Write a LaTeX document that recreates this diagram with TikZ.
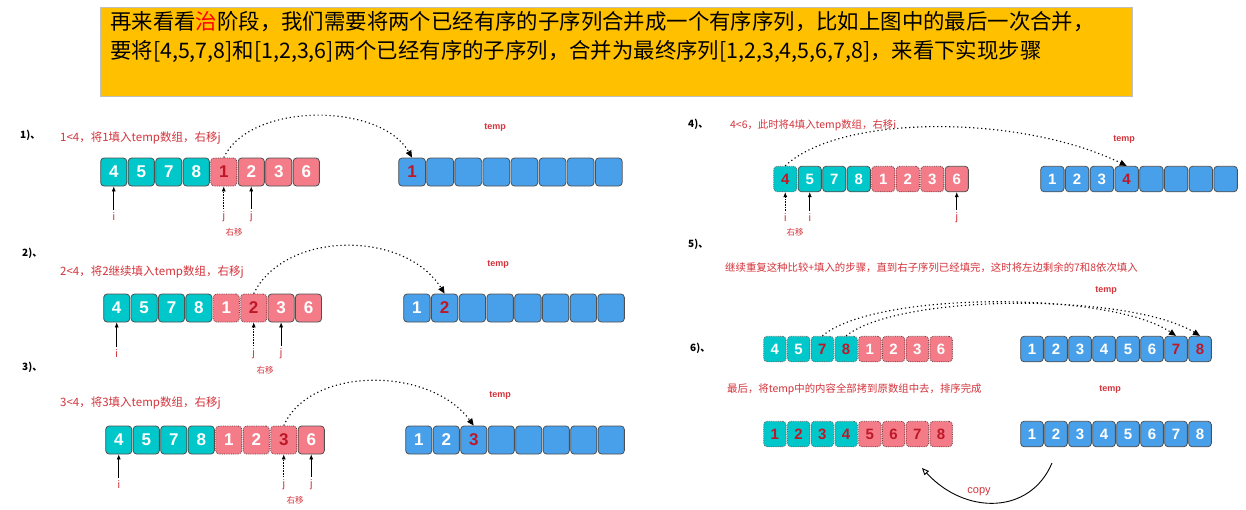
\documentclass[tikz,border=0pt]{standalone}
\usepackage{fontspec}
\setmainfont{Noto Sans CJK SC}
\newfontfamily\arial{Liberation Sans}
\usetikzlibrary{arrows.meta}
\definecolor{cteal}{RGB}{0,200,202}
\definecolor{cpink}{RGB}{244,124,136}
\definecolor{cblue}{RGB}{72,160,234}
\definecolor{cdark}{RGB}{190,24,40}
\definecolor{cred}{RGB}{212,52,60}
\definecolor{cbanner}{RGB}{255,192,0}
\definecolor{cborder}{RGB}{80,80,80}
\newcommand\cellrow[5][]{%
  \foreach \n/\s [count=\k] in {#5} {
    \node[cell,#1,\s,minimum width=#4pt-1.3pt] (#2\k) at ({#3+#4*(\k-0.5)},0) {\n};
  }}
\tikzset{
  cell/.style={rectangle, rounded corners=3.5pt, draw=cborder, line width=0.8pt,
    text=white, inner sep=0pt},
  big/.style={minimum height=28pt, font=\arial\bfseries\fontsize{17}{17}\selectfont},
  small/.style={minimum height=25.5pt, font=\arial\bfseries\fontsize{15}{15}\selectfont},
  tl/.style={fill=cteal},
  tlm/.style={fill=cteal, draw=black!60, densely dotted},
  tlh/.style={tlm, text=cdark},
  pk/.style={fill=cpink},
  pkm/.style={fill=cpink, draw=cpink!45!black, densely dotted},
  pkh/.style={pkm, text=cdark},
  bl/.style={fill=cblue},
  blh/.style={bl, text=cdark},
  stepno/.style={anchor=west, inner sep=0pt, font=\fontsize{10}{12}\selectfont\bfseries},
  desc/.style={anchor=west, inner sep=0pt, text=cred, font=\fontsize{11.5}{13}\selectfont},
  descs/.style={anchor=west, inner sep=0pt, text=cred, font=\fontsize{10.4}{12}\selectfont},
  templbl/.style={inner sep=0pt, text=cred, font=\arial\bfseries\fontsize{9}{10}\selectfont},
  ij/.style={inner sep=0pt, text=cred, font=\arial\fontsize{11}{12}\selectfont},
  movelbl/.style={inner sep=0pt, text=cred, font=\fontsize{8.5}{10}\selectfont},
  ptr/.style={line width=0.6pt, -{Latex[length=5pt,width=4pt]}},
  ptrd/.style={ptr, densely dotted},
  hop/.style={line width=1.1pt, dash pattern=on 1.2pt off 2.8pt, -{Triangle[length=7pt,width=6pt]}},
}
\begin{document}
\begin{tikzpicture}[x=1pt,y=-1pt]
\useasboundingbox (0,0) rectangle (1246,509);
\fill[white] (0,0) rectangle (1246,509);
% banner
\node[draw=gray!50, line width=1pt, fill=cbanner, minimum width=1032pt, minimum height=89pt,
  anchor=north west, inner sep=0pt] (banner) at (100,7) {};
\node[anchor=west, inner sep=0pt, font=\fontsize{21.4}{26}\selectfont] (b1) at (110,22)
  {再来看看\textcolor{red}{治}阶段，我们需要将两个已经有序的子序列合并成一个有序序列，比如上图中的最后一次合并，};
\node[anchor=west, inner sep=0pt, font=\fontsize{21.4}{26}\selectfont] (b2) at (110,51)
  {要将[4,5,7,8]和[1,2,3,6]两个已经有序的子序列，合并为最终序列[1,2,3,4,5,6,7,8]，来看下实现步骤};

% ---------- step 1
\node[stepno] (s1) at (20,135) {1)、};
\node[desc] (d1) at (60,138) {1<4，将1填入temp数组，右移j};
\begin{scope}[yshift=-172pt]
\cellrow[big]{a1}{100}{27.5}{4/tl,5/tl,7/tl,8/tl,1/pkh,2/pk,3/pk,6/pk}
\cellrow[big]{t1}{398}{28.1}{1/blh,/bl,/bl,/bl,/bl,/bl,/bl,/bl}
\end{scope}
\node[templbl] (tl1) at (495,127) {temp};
\node[ij] (i1) at (a11 |- 0,217) {i};
\node[ij] (j1a) at (a15 |- 0,217) {j};
\node[ij] (j1b) at (a16 |- 0,217) {j};
\node[movelbl] (r1) at (234,232) {右移};
\draw[ptr] ([yshift=3pt]i1.north) -- (i1 |- a11.south);
\draw[ptrd] ([yshift=3pt]j1a.north) -- (j1a |- a15.south);
\draw[ptr] ([yshift=3pt]j1b.north) -- (j1b |- a16.south);
\draw[hop] (a15.north) .. controls (250,102) and (380,102) .. (t11.north);

% ---------- step 2
\node[stepno] (s2) at (22,253) {2)、};
\node[desc] (d2) at (60,272) {2<4，将2继续填入temp数组，右移j};
\begin{scope}[yshift=-308pt]
\cellrow[big]{a2}{103}{27.4}{4/tl,5/tl,7/tl,8/tl,1/pkm,2/pkh,3/pk,6/pk}
\cellrow[big]{t2}{403}{27.75}{1/bl,2/blh,/bl,/bl,/bl,/bl,/bl,/bl}
\end{scope}
\node[templbl] (tl2) at (498,264) {temp};
\node[ij] (i2) at (a21 |- 0,354) {i};
\node[ij] (j2a) at (a26 |- 0,354) {j};
\node[ij] (j2b) at (a27 |- 0,354) {j};
\node[movelbl] (r2) at (265,370) {右移};
\draw[ptr] ([yshift=3pt]i2.north) -- (i2 |- a21.south);
\draw[ptrd] ([yshift=3pt]j2a.north) -- (j2a |- a26.south);
\draw[ptr] ([yshift=3pt]j2b.north) -- (j2b |- a27.south);
\draw[hop] (a26.north) .. controls (285,230) and (405,230) .. (t22.north);

% ---------- step 3
\node[stepno] (s3) at (22,367) {3)、};
\node[desc] (d3) at (60,403) {3<4，将3填入temp数组，右移j};
\begin{scope}[yshift=-440pt]
\cellrow[big]{a3}{105}{27.5}{4/tl,5/tl,7/tl,8/tl,1/pkm,2/pkm,3/pkh,6/pk}
\cellrow[big]{t3}{405}{27.5}{1/bl,2/bl,3/blh,/bl,/bl,/bl,/bl,/bl}
\end{scope}
\node[templbl] (tl3) at (500,395) {temp};
\node[ij] (i3) at (a31 |- 0,485) {i};
\node[ij] (j3a) at (a37 |- 0,485) {j};
\node[ij] (j3b) at (a38 |- 0,485) {j};
\node[movelbl] (r3) at (295,500) {右移};
\draw[ptr] ([yshift=3pt]i3.north) -- (i3 |- a31.south);
\draw[ptrd] ([yshift=3pt]j3a.north) -- (j3a |- a37.south);
\draw[ptr] ([yshift=3pt]j3b.north) -- (j3b |- a38.south);
\draw[hop] (a37.north) .. controls (310,366) and (430,366) .. (t33.north);

% ---------- step 4
\node[stepno] (s4) at (688,124) {4)、};
\node[descs] (d4) at (730,125) {4<6，此时将4填入temp数组，右移i};
\begin{scope}[yshift=-179pt]
\cellrow[small]{a4}{773}{24.5}{4/tlh,5/tl,7/tl,8/tl,1/pkm,2/pkm,3/pkm,6/pk}
\cellrow[small]{t4}{1040}{24.75}{1/bl,2/bl,3/bl,4/blh,/bl,/bl,/bl,/bl}
\end{scope}
\node[templbl] (tl4) at (1124,139) {temp};
\node[ij] (i4a) at (a41 |- 0,218) {i};
\node[ij] (i4b) at (a42 |- 0,218) {i};
\node[ij] (j4) at (a48 |- 0,218) {j};
\node[movelbl] (r4) at (795,232) {右移};
\draw[ptrd] ([yshift=3pt]i4a.north) -- (i4a |- a41.south);
\draw[ptr] ([yshift=3pt]i4b.north) -- (i4b |- a42.south);
\draw[ptr] ([yshift=3pt]j4.north) -- (j4 |- a48.south);
\draw[hop] (a41.north) .. controls (840,114) and (1020,114) .. (t44.north);

% ---------- step 5
\node[stepno] (s5) at (688,244) {5)、};
\node[descs] (d5) at (725,268) {继续重复这种比较+填入的步骤，直到右子序列已经填完，这时将左边剩余的7和8依次填入};
\node[templbl] (tl5) at (1106,290) {temp};

% ---------- step 6
\node[stepno] (s6) at (690,348) {6)、};
\begin{scope}[yshift=-349pt]
\cellrow[small]{a6}{763}{23.75}{4/tlm,5/tlm,7/tlh,8/tlh,1/pkm,2/pkm,3/pkm,6/pkm}
\cellrow[small]{t6}{1020}{24}{1/bl,2/bl,3/bl,4/bl,5/bl,6/bl,7/blh,8/blh}
\end{scope}
\draw[hop] (a63.north) .. controls (875,291) and (1110,291) .. (t67.north);
\draw[hop] (a64.north) .. controls (900,293) and (1130,293) .. (t68.north);

% ---------- final
\node[descs] (d7) at (727,389) {最后，将temp中的内容全部拷到原数组中去，排序完成};
\node[templbl] (tl7) at (1110,389) {temp};
\begin{scope}[yshift=-434pt]
\cellrow[small]{f}{763}{23.75}{1/tlh,2/tlh,3/tlh,4/tlh,5/pkh,6/pkh,7/pkh,8/pkh}
\cellrow[small]{ft}{1020}{24}{1/bl,2/bl,3/bl,4/bl,5/bl,6/bl,7/bl,8/bl}
\end{scope}
\coordinate (cpA) at (1052,463);
\coordinate (cpB) at (922,468);
\draw[line width=0.9pt, -{Triangle[open,length=7pt,width=6pt]}] (cpA) .. controls (1030,515) and (965,515) .. (cpB);
\node[inner sep=0pt, text=cred, font=\arial\fontsize{11}{12}\selectfont] (copy) at (979,492) {copy};
\end{tikzpicture}
\end{document}
